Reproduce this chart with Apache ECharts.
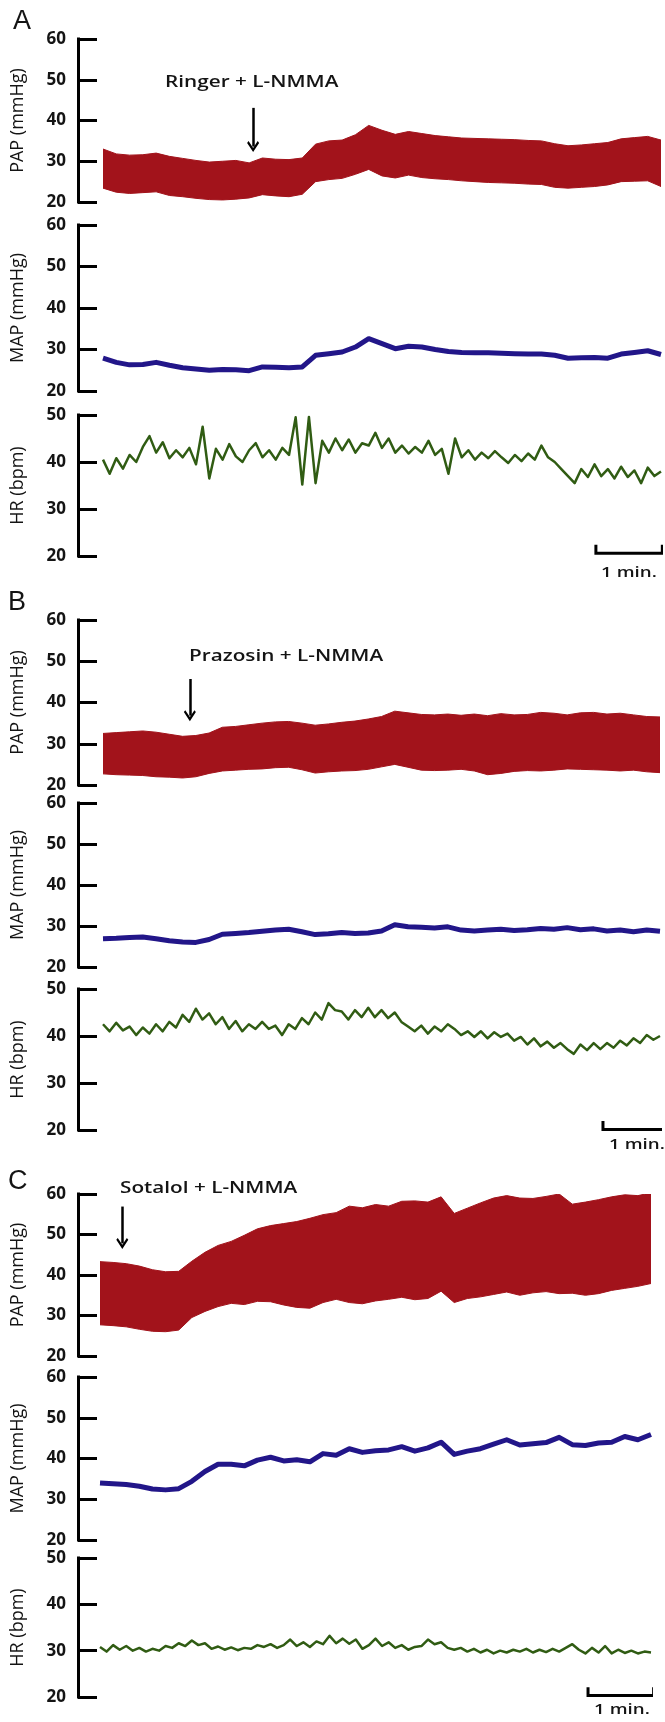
<!DOCTYPE html>
<html><head><meta charset="utf-8">
<script src="https://cdn.jsdelivr.net/npm/echarts@6/dist/echarts.min.js"></script>
<style>html,body{margin:0;padding:0;background:#fff}#c{width:665px;height:1722px}</style>
</head><body><div id="c"></div>
<script>
// ---- sampling steps (minutes) ----
const STEP_COARSE = 0.2;   // PAP envelopes and MAP
const STEP_FINE = 0.1;     // HR

// ---- Panel A: Ringer + L-NMMA ----
const papTopA = [33.0,31.8,31.5,31.6,32.0,31.2,30.7,30.2,29.8,30.0,30.2,29.6,30.8,30.5,30.4,30.8,34.2,35.0,35.2,36.5,38.8,37.6,36.6,37.3,36.8,36.3,36.0,35.7,35.6,35.5,35.4,35.3,35.1,35.0,34.3,33.8,34.0,34.3,34.6,35.5,35.8,36.1,35.2];
const papLowA = [23.4,22.4,22.1,22.3,22.5,21.6,21.3,20.9,20.6,20.5,20.7,21.0,21.8,21.5,21.3,21.9,25.0,25.5,25.8,26.8,28.0,26.4,25.9,26.6,26.0,25.7,25.5,25.2,25.0,24.8,24.7,24.6,24.4,24.3,23.6,23.4,23.6,23.8,24.2,25.0,25.1,25.2,23.8];
const mapA = [27.9,26.9,26.3,26.4,26.9,26.2,25.6,25.3,25.0,25.2,25.1,24.9,25.8,25.7,25.6,25.8,28.6,29.0,29.4,30.6,32.6,31.4,30.2,30.8,30.6,30.0,29.5,29.3,29.2,29.2,29.1,29.0,28.9,28.9,28.6,27.9,28.0,28.1,27.9,28.9,29.3,29.7,28.8];
const hrA = [40.5,37.5,40.8,38.6,41.5,40.0,43.2,45.5,42.0,44.2, 40.8,42.5,41.0,43.0,39.5,47.5,36.5,42.8,40.5,43.8, 41.2,40.0,42.5,44.0,41.0,42.5,40.5,43.0,41.5,49.5, 35.2,49.6,35.5,44.5,42.0,45.0,42.5,44.8,42.0,44.0, 43.5,46.2,43.0,45.0,42.0,43.5,41.8,43.2,42.0,44.5, 41.5,42.8,37.5,45.0,41.0,42.5,40.5,42.0,40.8,42.3, 41.0,39.8,41.5,40.2,41.8,40.5,43.5,41.0,40.0,38.5, 37.0,35.5,38.5,36.8,39.5,37.0,38.5,36.5,39.0,36.8, 38.2,35.5,38.8,37.0,38.0];

// ---- Panel B: Prazosin + L-NMMA ----
const papTopB = [32.5,32.7,32.9,33.1,32.8,32.3,31.8,32.0,32.6,34.0,34.2,34.6,35.0,35.3,35.4,35.0,34.5,34.8,35.2,35.5,36.0,36.6,37.9,37.5,37.1,37.0,37.2,36.9,37.2,36.8,37.3,37.0,37.1,37.6,37.4,37.0,37.5,37.6,37.2,37.4,37.0,36.6,36.5];
const papLowB = [22.7,22.5,22.4,22.3,22.0,21.9,21.7,22.0,22.8,23.4,23.6,23.8,23.9,24.2,24.3,23.7,22.9,23.2,23.4,23.5,23.8,24.4,25.0,24.3,23.6,23.5,23.6,23.8,23.4,22.5,22.8,23.3,23.5,23.4,23.6,23.9,23.8,23.7,23.6,23.4,23.6,23.2,23.0];
const mapB = [26.9,27.0,27.2,27.3,26.9,26.4,26.1,26.0,26.7,28.0,28.2,28.4,28.7,29.0,29.2,28.6,27.9,28.1,28.4,28.2,28.3,28.8,30.3,29.8,29.7,29.5,29.8,29.0,28.8,29.0,29.2,28.9,29.1,29.4,29.2,29.6,29.1,29.3,28.8,29.0,28.6,29.0,28.7];
const hrB = [42.5,41.0,42.8,41.2,42.0,40.2,41.8,40.5,42.5,41.0, 43.0,41.8,44.5,43.0,45.8,43.5,44.8,42.5,44.0,41.5, 43.2,41.0,42.5,41.5,43.0,41.5,42.2,40.2,42.5,41.5, 43.8,42.5,45.0,43.5,47.0,45.5,45.2,43.5,45.5,44.0, 46.0,44.0,45.5,43.8,45.0,43.0,42.0,41.0,42.2,40.5, 42.0,41.0,42.5,41.5,40.2,41.0,39.8,41.0,39.5,40.8, 39.8,40.5,39.0,39.8,38.2,39.5,37.8,38.8,37.5,38.5, 37.2,36.2,38.2,37.0,38.5,37.2,38.5,37.5,39.0,38.0, 39.5,38.5,40.2,39.2,40.0];

// ---- Panel C: Sotalol + L-NMMA ----
const papTopC = [43.3,43.1,42.8,42.2,41.3,40.8,40.9,43.4,45.6,47.3,48.3,49.8,51.4,52.2,52.7,53.2,54.0,54.9,55.4,57.0,56.6,57.4,57.0,58.2,58.3,58.0,59.3,55.2,56.5,57.8,59.0,59.6,59.0,58.9,59.4,60.0,57.5,58.0,58.6,59.3,59.8,59.6,60.3];
const papLowC = [27.7,27.5,27.2,26.6,26.1,26.0,26.4,29.5,31.0,32.2,33.0,32.7,33.5,33.4,32.6,32.0,31.8,33.2,34.0,33.2,32.9,33.6,34.0,34.5,33.9,34.2,36.0,33.2,34.2,34.6,35.2,35.8,35.0,35.6,35.9,35.4,35.5,35.0,35.4,36.2,36.7,37.2,37.9];
const mapC = [34.0,33.8,33.6,33.2,32.5,32.3,32.6,34.4,36.8,38.6,38.6,38.2,39.6,40.3,39.4,39.7,39.2,41.2,40.8,42.4,41.5,41.9,42.1,42.9,41.8,42.6,44.0,41.0,41.8,42.4,43.5,44.6,43.3,43.6,43.9,45.2,43.4,43.2,43.8,44.0,45.4,44.6,45.9];
const hrC = [30.8,29.8,31.2,30.2,31.0,30.0,30.6,29.8,30.4,30.0, 31.0,30.6,31.6,31.0,32.2,31.2,31.6,30.4,30.9,30.2, 30.7,30.1,30.6,30.4,31.2,30.8,31.4,30.6,31.2,32.4, 31.0,31.8,30.8,32.0,31.4,33.2,31.6,32.6,31.5,32.4, 30.4,31.2,32.6,31.0,31.8,30.6,31.2,30.2,30.8,31.0, 32.4,31.4,31.8,30.6,30.2,30.6,29.8,30.4,29.6,30.2, 29.4,30.0,29.6,30.2,29.8,30.4,29.6,30.2,29.7,30.4, 29.8,30.6,31.4,30.2,29.4,30.6,29.6,31.0,29.4,30.2, 29.5,30.0,29.4,29.8,29.6];

// ---- axis ranges & labels ----
const papRange = [20, 60];
const mapRange = [20, 60];
const hrRange = [20, 50];
const yNames = ['PAP (mmHg)', 'MAP (mmHg)', 'HR (bpm)'];
const treatments = ['Ringer + L-NMMA', 'Prazosin + L-NMMA', 'Sotalol + L-NMMA'];
const panelLetters = ['A', 'B', 'C'];
const injectionTime = [2.26, 1.31, 0.34];   // minutes (arrow)
const scaleBarStart = [7.42, 7.54, 7.44];   // minutes, 1-min bar
const scaleBarLabel = '1 min.';

const COLORS = {pap:'#a2131b', map:'#221689', hr:'#305c13', ink:'#141414'};

// ---- layout (pixels) ----
const layout = [
  {left:103, width:558, offset:25, grids:[[39,163],[225,166],[415,141]],
   arrow:[43.1,33.6], barLevel:20.6, letter:[13,22], ann:[165,82], bar:[629,573]},
  {left:103, width:557, offset:25, grids:[[620,165],[803,164],[989,141]],
   arrow:[45.7,36.8], barLevel:20.1, letter:[8,603], ann:[189,656], bar:[637,1145]},
  {left:100, width:551, offset:22, grids:[[1194,162],[1377,163],[1558,139]],
   arrow:[56.9,47.8], barLevel:20.3, letter:[8,1182], ann:[120,1188], bar:[622,1710]}
];

const data = [
  {papTop:papTopA, papLow:papLowA, map:mapA, hr:hrA},
  {papTop:papTopB, papLow:papLowB, map:mapB, hr:hrB},
  {papTop:papTopC, papLow:papLowC, map:mapC, hr:hrC}
];

function pairs(vals, step){ return vals.map((v,i)=>[+(i*step).toFixed(2), v]); }
function bandRows(low, top, step){ return low.map((v,i)=>[+(i*step).toFixed(2), v, top[i]]); }

const ARROW = 'path://M5,0 L10,7 L8.8,8.4 L5,3.2 L1.2,8.4 L0,7 Z';

const grid = [], xAxis = [], yAxis = [], series = [], graphic = [];
const ranges = [papRange, mapRange, hrRange];

layout.forEach((L, p) => {
  L.grids.forEach((g, k) => {
    const gi = p*3 + k;
    grid.push({left:L.left, width:L.width, top:g[0], height:g[1], containLabel:false});
    xAxis.push({type:'value', gridIndex:gi, min:0, max:8.4, show:false});
    yAxis.push({
      type:'value', gridIndex:gi, min:ranges[k][0], max:ranges[k][1], interval:10,
      offset:L.offset,
      axisLine:{show:true, onZero:false, lineStyle:{color:'#000', width:3, cap:'square'}},
      axisTick:{show:true, inside:true, length:19, lineStyle:{color:'#000', width:3}},
      axisLabel:{margin:12, color:COLORS.ink, fontFamily:'Open Sans', fontWeight:700, fontSize:17},
      splitLine:{show:false},
      name:yNames[k], nameLocation:'middle', nameGap:51,
      nameTextStyle:{fontFamily:'Open Sans', fontSize:18, color:COLORS.ink}
    });
  });
  const D = data[p];
  const g0 = p*3;
  const rows = bandRows(D.papLow, D.papTop, STEP_COARSE);
  // PAP band (systolic/diastolic envelope) drawn as one polygon through the axes' scales
  series.push({
    type:'custom', xAxisIndex:g0, yAxisIndex:g0, silent:true, clip:true,
    data:rows, encode:{x:0, y:[1,2]},
    renderItem(params, api){
      if (params.dataIndex !== 0) return null;
      const upper = rows.map(r => api.coord([r[0], r[2]]));
      const lower = rows.map(r => api.coord([r[0], r[1]])).reverse();
      return {type:'polygon', shape:{points:upper.concat(lower)},
        style:{fill:COLORS.pap, stroke:COLORS.pap, lineWidth:1, lineJoin:'round'}};
    },
    markLine:{
      silent:true, symbol:['none', ARROW], symbolSize:[12,11],
      lineStyle:{color:'#000', width:2.5, type:'solid'}, label:{show:false},
      data:[[{coord:[injectionTime[p], L.arrow[0]]},{coord:[injectionTime[p], L.arrow[1]]}]]
    }
  });
  // MAP
  series.push({
    type:'line', xAxisIndex:g0+1, yAxisIndex:g0+1, symbol:'none', silent:true,
    data:pairs(D.map, STEP_COARSE), lineStyle:{color:COLORS.map, width:5, join:'round'}
  });
  // HR
  series.push({
    type:'line', xAxisIndex:g0+2, yAxisIndex:g0+2, symbol:'none', silent:true,
    data:pairs(D.hr, STEP_FINE), lineStyle:{color:COLORS.hr, width:2.5, join:'round'}
  });
  // 1-min scale bar
  const s = scaleBarStart[p], b = L.barLevel;
  series.push({
    type:'line', xAxisIndex:g0+2, yAxisIndex:g0+2, symbol:'none', silent:true, clip:false,
    data:[[s, b+1.5],[s, b],[s+1, b],[s+1, b+1.5]],
    lineStyle:{color:'#000', width:3, cap:'square', join:'miter'}
  });
  // texts
  graphic.push({type:'text', x:L.letter[0], y:L.letter[1],
    style:{text:panelLetters[p], font:'27px "Liberation Sans", Arial, sans-serif', fill:COLORS.ink,
      textAlign:'left', textVerticalAlign:'middle', align:'left', verticalAlign:'middle'}});
  graphic.push({type:'text', x:L.ann[0], y:L.ann[1], scaleX:1.22,
    style:{text:treatments[p], font:'600 17px "Open Sans", sans-serif', fill:COLORS.ink,
      textAlign:'left', textVerticalAlign:'middle', align:'left', verticalAlign:'middle'}});
  graphic.push({type:'text', x:L.bar[0], y:L.bar[1], scaleX:1.25,
    style:{text:scaleBarLabel, font:'600 15px "Open Sans", sans-serif', fill:COLORS.ink,
      textAlign:'center', textVerticalAlign:'middle', align:'center', verticalAlign:'middle'}});
});

const chart = echarts.init(document.getElementById('c'), null, {renderer:'canvas'});
chart.setOption({animation:false, backgroundColor:'#fff', grid, xAxis, yAxis, series, graphic});
</script></body></html>
